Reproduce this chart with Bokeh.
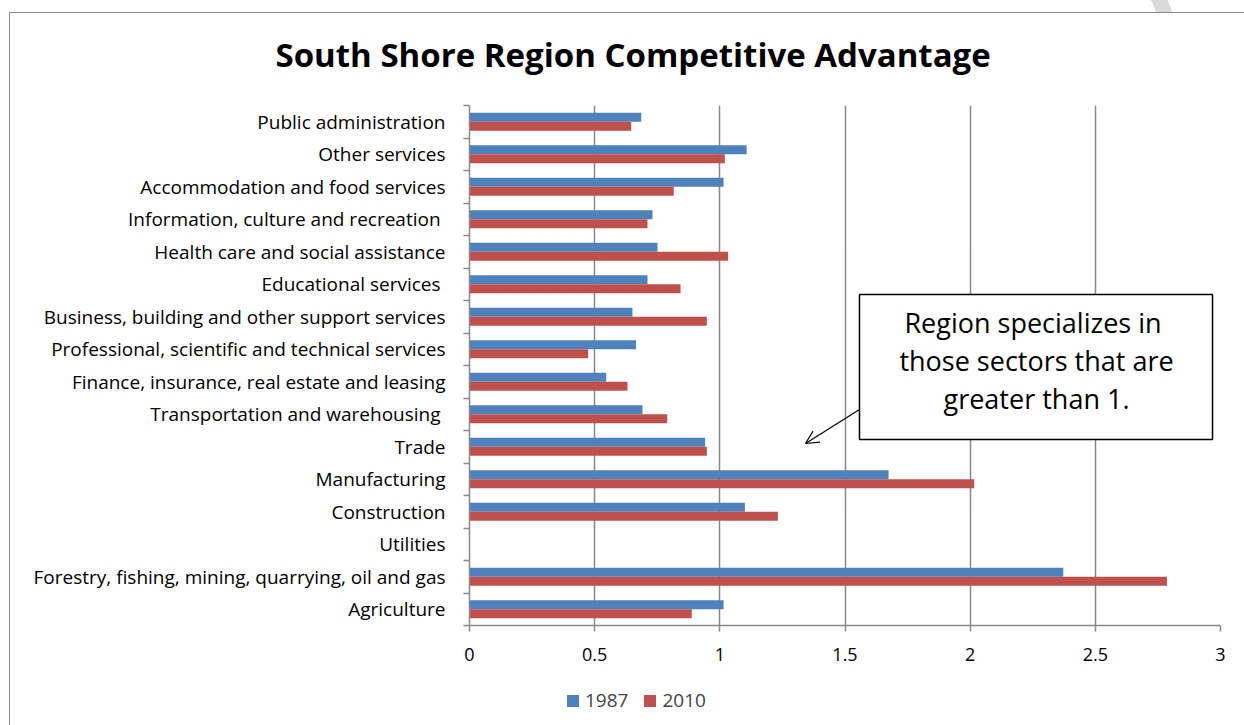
from bokeh.plotting import figure
from bokeh.layouts import column
from bokeh.models import (ColumnDataSource, Range1d, FixedTicker, BoxAnnotation, Label,
                          Arrow, OpenHead, Legend, LegendItem)
from bokeh.transform import dodge
from bokeh.embed import file_html
from bokeh.resources import INLINE

# ---- data (bottom to top, as drawn) ----
categories = [
    "Agriculture",
    "Forestry, fishing, mining, quarrying, oil and gas",
    "Utilities",
    "Construction",
    "Manufacturing",
    "Trade",
    "Transportation  and warehousing",
    "Finance, insurance, real estate and leasing",
    "Professional, scientific and technical services",
    "Business, building and other support services",
    "Educational  services",
    "Health care and social assistance",
    "Information,  culture and recreation",
    "Accommodation and food services",
    "Other services",
    "Public administration",
]
values_1987 = [1.015, 2.372, 0.0, 1.100, 1.674, 0.941, 0.691, 0.546, 0.665, 0.651,
               0.711, 0.751, 0.731, 1.015, 1.107, 0.686]
values_2010 = [0.888, 2.786, 0.0, 1.232, 2.016, 0.948, 0.790, 0.631, 0.474, 0.948,
               0.843, 1.033, 0.711, 0.816, 1.020, 0.646]
series_names = ["1987", "2010"]
x_ticks = [0, 0.5, 1, 1.5, 2, 2.5, 3]
x_tick_labels = ["0", "0.5", "1", "1.5", "2", "2.5", "3"]
title_text = "South Shore Region Competitive Advantage"
note_lines = ["Region specializes  in", "those sectors that are", "greater than 1."]

BLUE = "#4F81BD"
RED = "#C0504D"
GRID = "#898989"
FRAME = "#8c8c8c"
FONT = "Open Sans"

idx = [i + 0.5 for i in range(len(categories))]
source = ColumnDataSource(dict(y=idx, cat=categories, v1987=values_1987, v2010=values_2010))

p = figure(width=1244, height=685, x_range=Range1d(0, 3), y_range=Range1d(0, len(categories)),
           output_backend="svg", toolbar_location=None,
           min_border_left=469, min_border_right=24, min_border_top=104, min_border_bottom=60)
p.outline_line_color = None
p.background_fill_color = None
p.border_fill_color = None
# outer chart frame (thin grey line on top and left) + faint page mark at top right
p.styles = {
    "background-color": "white",
    "background-image": (
        "linear-gradient(67deg, rgba(0,0,0,0) 13px, #dadada 13px, #dadada 28px, rgba(0,0,0,0) 28px), "
        f"linear-gradient({FRAME}, {FRAME}), linear-gradient({FRAME}, {FRAME})"
    ),
    "background-size": "40px 12px, 100% 1px, 1px 100%",
    "background-position": "1142px 0px, 9px 12px, 9px 12px",
    "background-repeat": "no-repeat",
}

r1 = p.hbar(y=dodge("y", 0.138, range=p.y_range), right="v1987", left=0, height=0.276,
            source=source, fill_color=BLUE, line_color=None)
r2 = p.hbar(y=dodge("y", -0.138, range=p.y_range), right="v2010", left=0, height=0.276,
            source=source, fill_color=RED, line_color=None)

# title
p.title.text = title_text
p.title.align = "left"
p.title.offset = -194
p.title.text_font = FONT
p.title.text_font_style = "bold"
p.title.text_font_size = "33px"
p.title.text_color = "black"
p.title.standoff = 58

# x axis
p.xaxis.ticker = FixedTicker(ticks=x_ticks, minor_ticks=[])
p.xaxis.major_label_overrides = {t: l for t, l in zip(x_ticks, x_tick_labels)}
p.xaxis.axis_line_color = GRID
p.xaxis.axis_line_width = 1.5
p.xaxis.major_tick_line_color = GRID
p.xaxis.major_tick_line_width = 1.5
p.xaxis.major_tick_out = 6
p.xaxis.major_tick_in = 0
p.xaxis.minor_tick_line_color = None
p.xaxis.major_label_standoff = 16
p.xaxis.major_label_text_font = FONT
p.xaxis.major_label_text_font_size = "18px"
p.xaxis.major_label_text_color = "black"

# y axis (ticks on category boundaries, labels at centres)
p.yaxis.ticker = FixedTicker(ticks=idx, minor_ticks=list(range(len(categories) + 1)))
p.yaxis.major_label_overrides = {y: c for y, c in zip(idx, categories)}
p.yaxis.axis_line_color = GRID
p.yaxis.axis_line_width = 1.5
p.yaxis.major_tick_line_color = None
p.yaxis.major_tick_out = 0
p.yaxis.major_tick_in = 0
p.yaxis.minor_tick_line_color = GRID
p.yaxis.minor_tick_line_width = 1.5
p.yaxis.minor_tick_out = 6
p.yaxis.minor_tick_in = 0
p.yaxis.major_label_standoff = 18
p.yaxis.major_label_text_font = FONT
p.yaxis.major_label_text_font_size = "19px"
p.yaxis.major_label_text_color = "black"

p.xgrid.ticker = FixedTicker(ticks=x_ticks)
p.xgrid.grid_line_color = GRID
p.xgrid.grid_line_width = 1.5
p.ygrid.grid_line_color = None

# note box + arrow
p.add_layout(Arrow(end=OpenHead(size=13, line_width=1.2, line_color="black"),
                   x_start=390, y_start=216, x_end=336, y_end=182,
                   start_units="screen", end_units="screen",
                   line_color="black", line_width=1.2))
p.add_layout(BoxAnnotation(left=390, right=743, top=331, bottom=186,
                           left_units="screen", right_units="screen",
                           top_units="screen", bottom_units="screen",
                           fill_color="white", fill_alpha=1,
                           line_color="black", line_alpha=1, line_width=1.5))
for k, line in enumerate(note_lines):
    p.add_layout(Label(x=567, y=303 - 38 * k, x_units="screen", y_units="screen",
                       text=line, text_align="center", text_baseline="alphabetic",
                       text_font=FONT, text_font_size="27px", text_color="black"))

# legend strip below the chart (its frame is aligned with the chart's frame)
pl = figure(width=1244, height=40, x_range=Range1d(0, 1), y_range=Range1d(0, 1),
            output_backend="svg", toolbar_location=None,
            x_axis_location=None, y_axis_location=None,
            min_border_left=0, min_border_right=0, min_border_top=0, min_border_bottom=0)
pl.grid.visible = False
pl.outline_line_color = None
pl.background_fill_color = None
pl.border_fill_color = None
pl.styles = {
    "background-color": "white",
    "background-image": f"linear-gradient({FRAME}, {FRAME})",
    "background-size": "1px 100%",
    "background-position": "9px 0px",
    "background-repeat": "no-repeat",
}
key_src = ColumnDataSource(dict(y=[0.5], left=[0], right=[0]))
k1 = pl.hbar(y="y", left="left", right="right", height=0.5, source=key_src,
             fill_color=BLUE, line_color=None)
k2 = pl.hbar(y="y", left="left", right="right", height=0.5, source=key_src,
             fill_color=RED, line_color=None)
legend = Legend(items=[LegendItem(label=series_names[0], renderers=[k1]),
                       LegendItem(label=series_names[1], renderers=[k2])],
                location=(96, 12), orientation="horizontal",
                border_line_color=None, background_fill_alpha=0,
                padding=0, margin=0, glyph_width=15, glyph_height=15,
                label_standoff=5, spacing=14,
                label_text_font=FONT, label_text_font_size="19px")
pl.add_layout(legend, "center")

layout = column(p, pl, spacing=0)
open("out.html", "w").write(file_html(layout, INLINE))
